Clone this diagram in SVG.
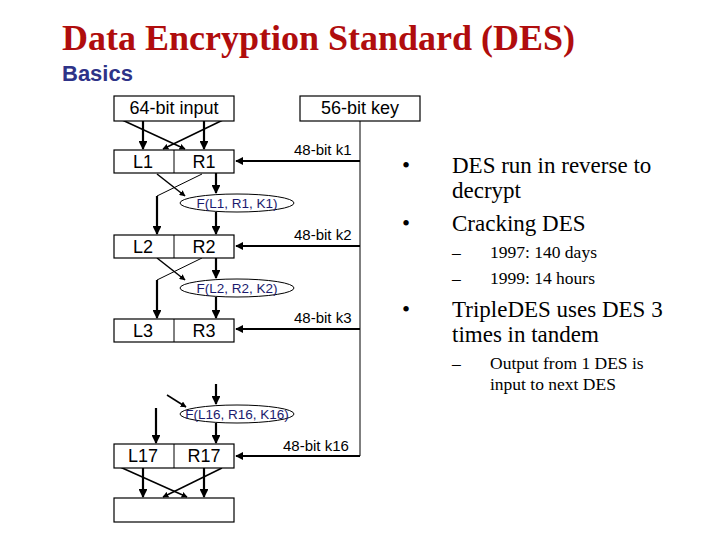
<svg xmlns="http://www.w3.org/2000/svg" width="720" height="540" viewBox="0 0 720 540">
<style>
.box{fill:#fff;stroke:#000;stroke-width:1.2}
.ln{fill:none;stroke:#000;stroke-width:2.2}
.th{fill:none;stroke:#000;stroke-width:1}
.ell{fill:#fff;stroke:#000;stroke-width:1}
.t{font-family:"Liberation Sans",Arial,sans-serif;font-size:15px;fill:#000}
.tb{font-family:"Liberation Sans",Arial,sans-serif;font-size:18px;fill:#000;text-anchor:middle}
.f{font-family:"Liberation Sans",Arial,sans-serif;font-size:13.5px;fill:#1a1a6e;text-anchor:middle}
.s{font-family:"Liberation Serif","Times New Roman",serif;font-size:23px;fill:#000}
.ss{font-family:"Liberation Serif","Times New Roman",serif;font-size:17.5px;fill:#000}
</style>
<defs>
<marker id="ah" viewBox="0 0 10 10" refX="9" refY="5" markerWidth="4" markerHeight="4" orient="auto"><path d="M0,0L10,5L0,10z" fill="#000"/></marker>
</defs>
<rect width="720" height="540" fill="#fff"/>
<text x="62" y="50" font-family="Liberation Serif,serif" font-weight="bold" font-size="35" fill="#b00d0d" textLength="513" lengthAdjust="spacingAndGlyphs">Data Encryption Standard (DES)</text>
<text x="62" y="81" font-family="Liberation Sans,Arial,sans-serif" font-weight="bold" font-size="22" fill="#2e3388">Basics</text>
<g id="connectors">
<line class="th" x1="360" y1="121" x2="360" y2="456"/>
<line class="th" x1="360" y1="161" x2="236" y2="161" marker-end="url(#ah)" style="stroke-width:2"/>
<line class="th" x1="360" y1="246" x2="236" y2="246" marker-end="url(#ah)" style="stroke-width:2"/>
<line class="th" x1="360" y1="329" x2="236" y2="329" marker-end="url(#ah)" style="stroke-width:2"/>
<line class="th" x1="360" y1="456" x2="236" y2="456" marker-end="url(#ah)" style="stroke-width:2"/>
<line class="ln" x1="143" y1="121" x2="143" y2="149" marker-end="url(#ah)"/>
<line class="ln" x1="204" y1="121" x2="204" y2="149" marker-end="url(#ah)"/>
<line class="th" x1="120" y1="119" x2="185" y2="149" marker-end="url(#ah)" style="stroke-width:1.5"/>
<line class="th" x1="225" y1="119" x2="163" y2="149" marker-end="url(#ah)" style="stroke-width:1.5"/>
<line class="th" x1="157" y1="174" x2="185" y2="196" marker-end="url(#ah)" style="stroke-width:1.5"/>
<line class="ln" x1="216" y1="173" x2="216" y2="193" marker-end="url(#ah)"/>
<line class="th" x1="202" y1="174" x2="157" y2="196"/>
<line class="ln" x1="157" y1="196" x2="157" y2="234" marker-end="url(#ah)"/>
<line class="ln" x1="216" y1="212" x2="216" y2="234" marker-end="url(#ah)"/>
<line class="th" x1="157" y1="258" x2="185" y2="280" marker-end="url(#ah)" style="stroke-width:1.5"/>
<line class="ln" x1="216" y1="258" x2="216" y2="278" marker-end="url(#ah)"/>
<line class="th" x1="202" y1="258" x2="157" y2="280"/>
<line class="ln" x1="157" y1="280" x2="157" y2="318" marker-end="url(#ah)"/>
<line class="ln" x1="216" y1="297" x2="216" y2="318" marker-end="url(#ah)"/>
<line class="th" x1="167" y1="395" x2="186" y2="407" marker-end="url(#ah)" style="stroke-width:1.5"/>
<line class="ln" x1="216" y1="384" x2="216" y2="404" marker-end="url(#ah)"/>
<line class="ln" x1="156" y1="408" x2="156" y2="443" marker-end="url(#ah)"/>
<line class="ln" x1="216" y1="423" x2="216" y2="443" marker-end="url(#ah)"/>
<line class="ln" x1="143" y1="468" x2="143" y2="497" marker-end="url(#ah)"/>
<line class="ln" x1="204" y1="468" x2="204" y2="497" marker-end="url(#ah)"/>
<line class="th" x1="120" y1="467" x2="187" y2="497" marker-end="url(#ah)" style="stroke-width:1.5"/>
<line class="th" x1="222" y1="468" x2="163" y2="497" marker-end="url(#ah)" style="stroke-width:1.5"/>
</g>
<g id="input"><rect class="box" x="114" y="96" width="120" height="25"/><text class="tb" x="174" y="114">64-bit input</text></g>
<g id="key"><rect class="box" x="300" y="96" width="120" height="25"/><text class="tb" x="360" y="114">56-bit key</text></g>
<g id="r1"><rect class="box" x="114" y="150" width="120" height="23"/><line class="th" x1="174" y1="150" x2="174" y2="173"/><text class="tb" x="143" y="168">L1</text><text class="tb" x="204" y="168">R1</text></g>
<g id="r2"><rect class="box" x="114" y="235" width="120" height="23"/><line class="th" x1="174" y1="235" x2="174" y2="258"/><text class="tb" x="143" y="253">L2</text><text class="tb" x="204" y="253">R2</text></g>
<g id="r3"><rect class="box" x="114" y="319" width="120" height="23"/><line class="th" x1="174" y1="319" x2="174" y2="342"/><text class="tb" x="143" y="337">L3</text><text class="tb" x="204" y="337">R3</text></g>
<g id="r17"><rect class="box" x="114" y="444" width="120" height="24"/><line class="th" x1="174" y1="444" x2="174" y2="468"/><text class="tb" x="143" y="462">L17</text><text class="tb" x="204" y="462">R17</text></g>
<g id="out"><rect class="box" x="114" y="498" width="120" height="24"/></g>
<g id="f1"><ellipse class="ell" cx="237" cy="203" rx="57" ry="9"/><text class="f" x="237" y="208">F(L1, R1, K1)</text></g>
<g id="f2"><ellipse class="ell" cx="237" cy="288" rx="57" ry="9"/><text class="f" x="237" y="293">F(L2, R2, K2)</text></g>
<g id="f16"><ellipse class="ell" cx="237" cy="414" rx="57" ry="9"/><text class="f" x="237" y="419">F(L16, R16, K16)</text></g>
<g id="keylabels">
<text class="t" x="294" y="155">48-bit k1</text>
<text class="t" x="294" y="240">48-bit k2</text>
<text class="t" x="294" y="323">48-bit k3</text>
<text class="t" x="283" y="451">48-bit k16</text>
</g>
<g id="bullets">
<text class="s" x="402" y="173">•</text>
<text class="s" x="452" y="173">DES run in reverse to</text>
<text class="s" x="452" y="198">decrypt</text>
<text class="s" x="402" y="231">•</text>
<text class="s" x="452" y="231">Cracking DES</text>
<text class="ss" x="452" y="258">–</text>
<text class="ss" x="490" y="258">1997: 140 days</text>
<text class="ss" x="452" y="284">–</text>
<text class="ss" x="490" y="284">1999: 14 hours</text>
<text class="s" x="402" y="317">•</text>
<text class="s" x="452" y="317">TripleDES uses DES 3</text>
<text class="s" x="452" y="342">times in tandem</text>
<text class="ss" x="452" y="369">–</text>
<text class="ss" x="490" y="369">Output from 1 DES is</text>
<text class="ss" x="490" y="390">input to next DES</text>
</g>
</svg>
